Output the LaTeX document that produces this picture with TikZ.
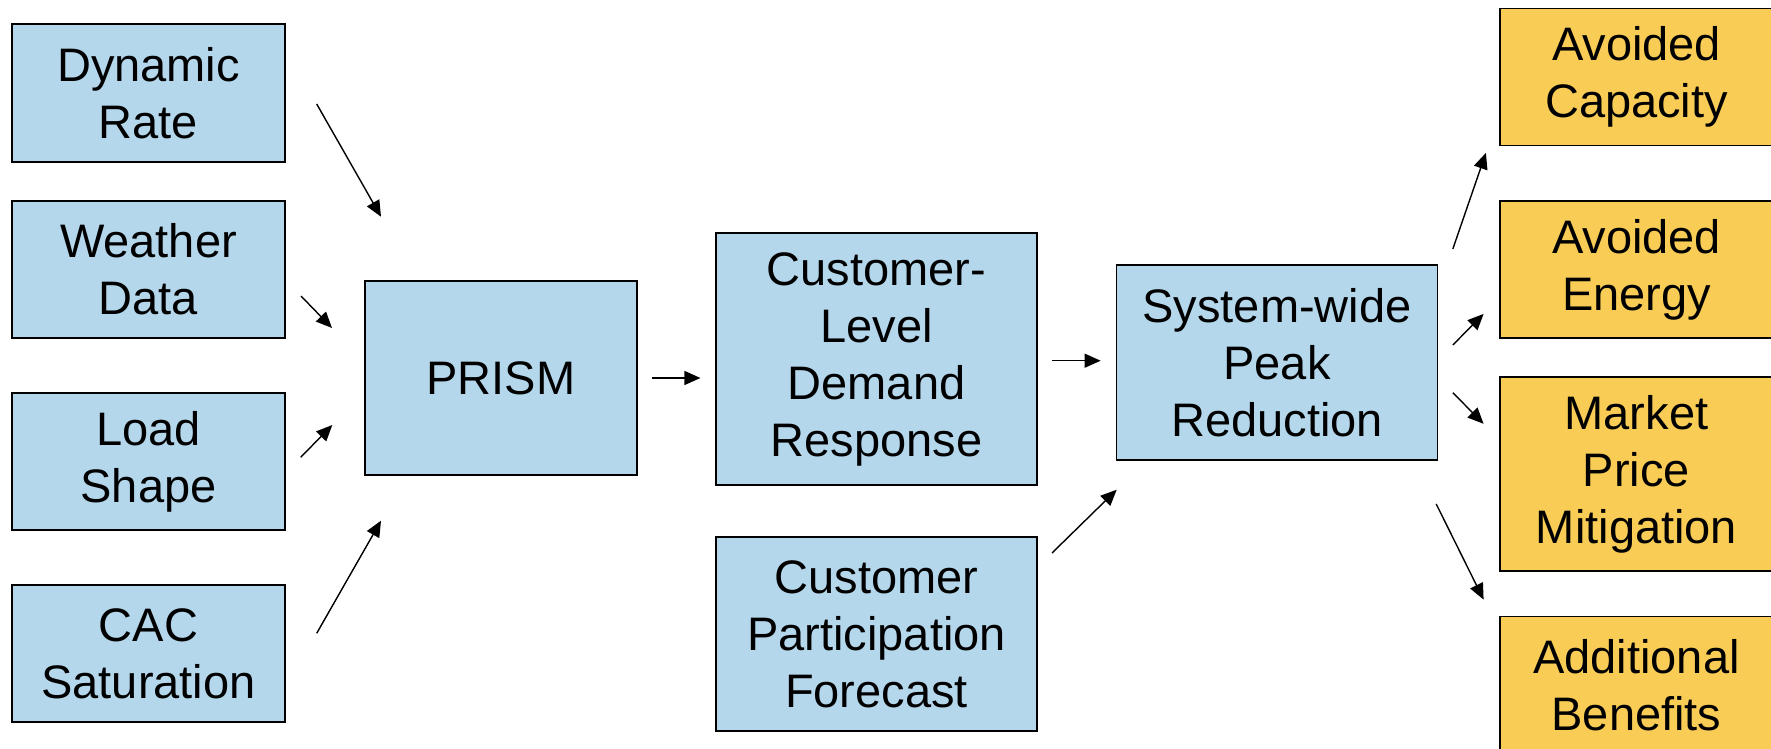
\documentclass[tikz,border=0pt]{standalone}
\usepackage{fontspec}
\setmainfont{Liberation Sans}
\usetikzlibrary{arrows.meta}
\definecolor{boxblue}{RGB}{180,215,236}
\definecolor{boxgold}{RGB}{249,205,85}
\tikzset{
  basebox/.style={draw=black, line width=1.8pt, align=center, inner sep=0pt,
    font=\fontsize{47}{57}\selectfont},
  bluebox/.style={basebox, fill=boxblue},
  goldbox/.style={basebox, fill=boxgold},
  flow/.style={line width=1.4pt, -{Triangle[length=16pt,width=14pt]}}
}
\begin{document}
\begin{tikzpicture}[x=1pt,y=-1pt]
\useasboundingbox (0,0) rectangle (1771,749);
\clip (0,0) rectangle (1771,749);

% inputs
\node[bluebox, minimum width=273, minimum height=138] (rate) at (148.5,93) {Dynamic\\Rate};
\node[bluebox, minimum width=273, minimum height=137] (weather) at (148.5,269.5) {Weather\\Data};
\node[bluebox, minimum width=273, minimum height=137] (load) at (148.5,461.5) {Load\\Shape};
\node[bluebox, minimum width=273, minimum height=137] (cac) at (148.5,653.5) {CAC\\Saturation};

% model and intermediate results
\node[bluebox, minimum width=272, minimum height=194] (prism) at (501,378) {PRISM};
\node[bluebox, minimum width=321, minimum height=252] (cldr) at (876.5,359) {Customer-\\Level\\Demand\\Response};
\node[bluebox, minimum width=321, minimum height=194] (cpf) at (876.5,634) {Customer\\Participation\\Forecast};
\node[bluebox, minimum width=321, minimum height=195] (peak) at (1277,362.5) {System-wide\\Peak\\Reduction};

% benefits
\node[goldbox, minimum width=273, minimum height=137] (cap) at (1636.5,77) {Avoided\\Capacity};
\node[goldbox, minimum width=273, minimum height=137] (energy) at (1636.5,269.5) {Avoided\\Energy};
\node[goldbox, minimum width=273, minimum height=194] (price) at (1636.5,474) {Market\\Price\\Mitigation};
\node[goldbox, minimum width=273, minimum height=137] (extra) at (1636.5,685) {Additional\\Benefits};

% arrow end points
\coordinate (r1) at (316.7,104);   \coordinate (r2) at (381,216.7);
\coordinate (w1) at (301,296);     \coordinate (w2) at (332,328);
\coordinate (l1) at (300.7,457.3); \coordinate (l2) at (332.3,425);
\coordinate (c1) at (316.7,633.3); \coordinate (c2) at (381,520.7);
\coordinate (p1) at (652,378);     \coordinate (p2) at (700.4,378);
\coordinate (d1) at (1052,360.7);  \coordinate (d2) at (1100.6,360.7);
\coordinate (f1) at (1052,553);    \coordinate (f2) at (1116.7,489.7);
\coordinate (s1) at (1452.8,249);  \coordinate (s2) at (1485.9,152.9);
\coordinate (e1) at (1452.8,345);  \coordinate (e2) at (1483.6,313.9);
\coordinate (m1) at (1452.8,392.7);\coordinate (m2) at (1483.6,423.8);
\coordinate (a1) at (1436.2,504);  \coordinate (a2) at (1483.6,599.6);

\draw[flow] (r1) -- (r2);
\draw[flow] (w1) -- (w2);
\draw[flow] (l1) -- (l2);
\draw[flow] (c1) -- (c2);
\draw[flow] (p1) -- (p2);
\draw[flow] (d1) -- (d2);
\draw[flow] (f1) -- (f2);
\draw[flow] (s1) -- (s2);
\draw[flow] (e1) -- (e2);
\draw[flow] (m1) -- (m2);
\draw[flow] (a1) -- (a2);
\end{tikzpicture}
\end{document}
